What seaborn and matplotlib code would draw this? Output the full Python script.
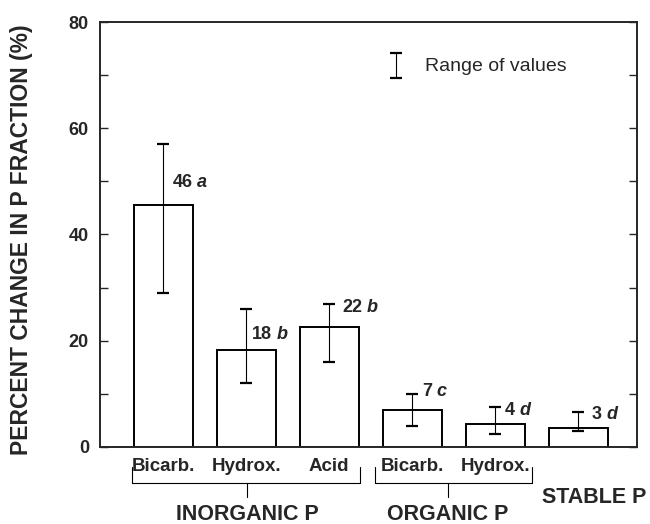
import matplotlib.pyplot as plt
import matplotlib.transforms as mtransforms
import seaborn as sns
import pandas as pd

sns.set_style("ticks")
plt.rcParams['font.family'] = ['Liberation Sans', 'DejaVu Sans']

# data
fractions = ['Inorg. Bicarb.', 'Inorg. Hydrox.', 'Inorg. Acid',
             'Org. Bicarb.', 'Org. Hydrox.', 'Stable']
change = [45.5, 18.2, 22.5, 7.0, 4.3, 3.5]
low = [29, 12, 16, 4, 2.5, 3]
high = [57, 26, 27, 10, 7.5, 6.5]
means = ['46', '18', '22', '7', '4', '3']
letters = ['a', 'b', 'b', 'c', 'd', 'd']
sub_labels = ['Bicarb.', 'Hydrox.', 'Acid', 'Bicarb.', 'Hydrox.']
groups = ['INORGANIC P', 'ORGANIC P', 'STABLE P']

df = pd.DataFrame({'fraction': fractions, 'change': change})

fig = plt.figure(figsize=(6.5, 5.24), dpi=100)
ax = fig.add_axes([0.154, 0.147, 0.826, 0.811])

sns.barplot(data=df, x='fraction', y='change', ax=ax, fill=False,
            color='black', linewidth=1.4, width=0.71, errorbar=None)
# seaborn sets the edge colour from the palette, force black
for p in ax.patches:
    p.set_edgecolor('black')

xs = list(range(len(fractions)))
yerr = [[c - l for c, l in zip(change, low)], [h - c for c, h in zip(change, high)]]
ax.errorbar(xs, change, yerr=yerr, fmt='none', ecolor='black',
            elinewidth=0.8, capsize=4, capthick=1.6)

# value + significance letter labels
label_x = [0.11, 0.07, 0.16, 0.12, 0.12, 0.16]
label_y = [49.7, 21.1, 26.2, 10.4, 6.8, 6.2]
for x, dx, y, m, l in zip(xs, label_x, label_y, means, letters):
    ax.text(x + dx, y, m, ha='left', va='center',
            fontsize=13, fontweight='bold')
    ax.annotate(l, xy=(x + dx, y), xycoords='data',
                xytext=(len(m) * 7.2 + 3.4, 0), textcoords='offset points',
                ha='left', va='center', fontsize=13,
                fontweight='bold', fontstyle='italic')

ax.set_xlim(-0.76, 5.71)
ax.set_ylim(0, 80)
ax.set_yticks([0, 20, 40, 60, 80])
ax.set_yticks([10, 30, 50, 70], minor=True)
ax.tick_params(axis='y', which='both', direction='in', labelsize=13,
               length=6, width=1, pad=8, right=True)
for lab in ax.get_yticklabels():
    lab.set_fontweight('bold')

ax.set_xticks(xs[:5])
ax.set_xticklabels(sub_labels, fontsize=13.5, fontweight='bold')
ax.tick_params(axis='x', length=0, pad=8)
ax.set_xlabel('')
ax.set_ylabel('PERCENT CHANGE IN P FRACTION (%)', fontsize=16.5,
              fontweight='bold')
ax.yaxis.set_label_coords(-0.125, 0.487)

for s in ax.spines.values():
    s.set_linewidth(1.4)
    s.set_visible(True)

# legend for range bar
ax.errorbar([2.81], [71.8], yerr=[[2.3], [2.3]], fmt='none', ecolor='black',
            elinewidth=0.8, capsize=4, capthick=1.6)
ax.text(3.16, 71.6, 'Range of values', ha='left', va='center', fontsize=14)

# group brackets below the axis
trans = mtransforms.blended_transform_factory(ax.transData, ax.transAxes)
brackets = [(-0.37, 2.37, 1.01), (2.55, 4.44, 3.43)]
for (x0, x1, xc), name in zip(brackets, groups[:2]):
    ax.plot([x0, x0, x1, x1], [-0.047, -0.085, -0.085, -0.047], color='black',
            lw=0.8, transform=trans, clip_on=False)
    ax.plot([xc, xc], [-0.085, -0.118], color='black', lw=0.8,
            transform=trans, clip_on=False)
    ax.text(xc, -0.16, name, transform=trans, ha='center', va='center',
            fontsize=15.5, fontweight='bold')
ax.text(5.2, -0.118, groups[2], transform=trans, ha='center', va='center',
        fontsize=15.5, fontweight='bold')

fig.savefig('out.png', dpi=100)
